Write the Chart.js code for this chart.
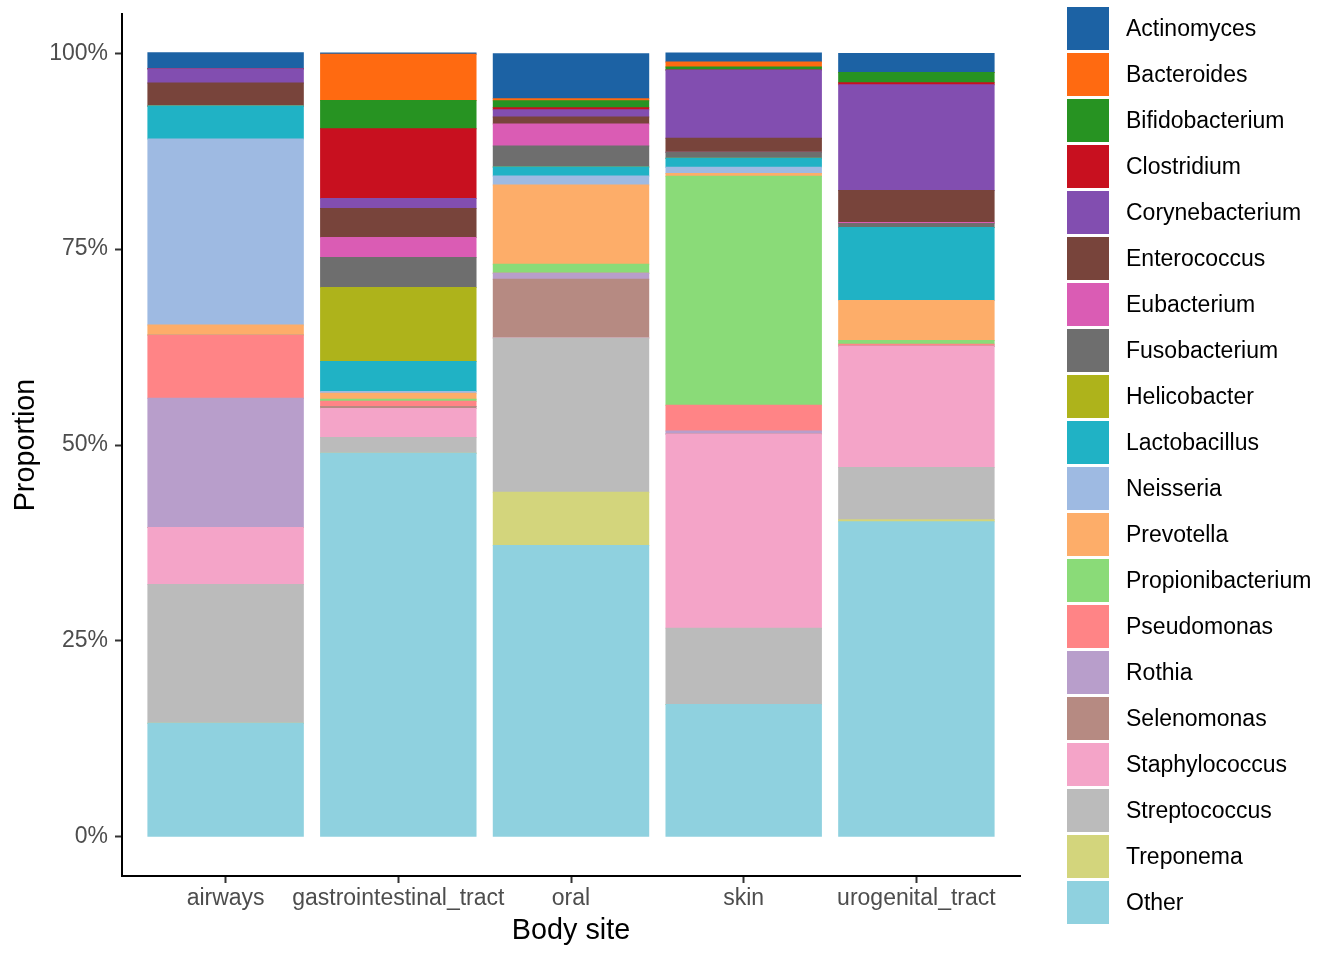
<!DOCTYPE html>
<html>
<head>
<meta charset="utf-8">
<script src="https://cdn.jsdelivr.net/npm/chart.js@4.4.1/dist/chart.umd.min.js"></script>
<style>html,body{margin:0;padding:0;background:#fff;}canvas{display:block;}</style>
</head>
<body>
<canvas id="c" width="1344" height="960"></canvas>
<script>
// ---- data (percent of reads per body site) ----
const sites = ["airways", "gastrointestinal_tract", "oral", "skin", "urogenital_tract"];
const yTicks = [0, 25, 50, 75, 100];

const Actinomyces       = [2.04, 0.15, 5.75, 1.15, 2.43];
const Bacteroides       = [0, 5.9, 0.26, 0.64, 0];
const Bifidobacterium   = [0, 3.6, 0.9, 0.38, 1.28];
const Clostridium       = [0, 8.9, 0.26, 0, 0.26];
const Corynebacterium   = [1.79, 1.28, 0.9, 8.7, 13.5];
const Enterococcus      = [2.94, 3.7, 0.9, 1.8, 4.1];
const Eubacterium       = [0, 2.55, 2.8, 0, 0.13];
const Fusobacterium     = [0, 3.83, 2.7, 0.77, 0.5];
const Helicobacter      = [0, 9.45, 0, 0, 0];
const Lactobacillus     = [4.21, 3.83, 1.15, 1.15, 9.3];
const Neisseria         = [23.75, 0.22, 1.15, 0.77, 0];
const Prevotella        = [1.28, 0.77, 10.09, 0.38, 5.1];
const Propionibacterium = [0, 0.26, 1.15, 29.2, 0.5];
const Pseudomonas       = [8.05, 0.68, 0, 3.3, 0.26];
const Rothia            = [16.5, 0, 0.77, 0.38, 0];
const Selenomonas       = [0, 0.25, 7.5, 0, 0];
const Staphylococcus    = [7.28, 3.7, 0, 24.8, 15.45];
const Streptococcus     = [17.7, 2.0, 19.7, 9.7, 6.68];
const Treponema         = [0, 0, 6.8, 0, 0.26];
const Other             = [14.5, 48.95, 37.16, 16.9, 40.2];

const taxa = ["Actinomyces","Bacteroides","Bifidobacterium","Clostridium","Corynebacterium",
  "Enterococcus","Eubacterium","Fusobacterium","Helicobacter","Lactobacillus","Neisseria",
  "Prevotella","Propionibacterium","Pseudomonas","Rothia","Selenomonas","Staphylococcus",
  "Streptococcus","Treponema","Other"];
const taxaValues = [Actinomyces, Bacteroides, Bifidobacterium, Clostridium, Corynebacterium,
  Enterococcus, Eubacterium, Fusobacterium, Helicobacter, Lactobacillus, Neisseria,
  Prevotella, Propionibacterium, Pseudomonas, Rothia, Selenomonas, Staphylococcus,
  Streptococcus, Treponema, Other];
const colors = ["#1C62A4","#FF6A11","#279322","#C8101F","#824EB0","#78443B","#DA5CB4",
  "#6E6E6E","#AEB31B","#20B2C5","#9EBAE2","#FDAD69","#8ADB78","#FF8486","#B89ECB",
  "#B68A82","#F4A4C8","#BBBBBB","#D3D57C","#8FD1DF"];

// ---- chart ----
const FONT = '"Liberation Sans", Arial, Helvetica, sans-serif';
Chart.defaults.font.family = FONT;

// bottom of the stack is the last taxon ("Other"), so build datasets in reverse
const datasets = taxa.map((name, i) => ({
  label: name,
  data: taxaValues[i].map((v, j) => ({ x: j + 1, y: v })),
  backgroundColor: colors[i],
  borderWidth: 0,
  inflateAmount: 0.5,
  categoryPercentage: 0.9,
  barPercentage: 1.0
})).reverse();

const sideLegend = {
  id: 'sideLegend',
  afterDraw(chart) {
    const ctx = chart.ctx;
    ctx.save();
    ctx.font = '23px ' + FONT;
    ctx.textAlign = 'left';
    ctx.textBaseline = 'middle';
    const x0 = chart.chartArea.right + 47;
    taxa.forEach((name, i) => {
      const y = 7 + i * 46;
      ctx.fillStyle = colors[i];
      ctx.fillRect(x0, y, 42, 43);
      ctx.fillStyle = '#000000';
      ctx.fillText(name, x0 + 59, y + 22.5);
    });
    ctx.restore();
  }
};

const tickFont = { size: 23, family: FONT };
const titleFont = { size: 28.75, family: FONT };
const gridOpts = { drawOnChartArea: false, drawTicks: true, tickLength: 7, tickColor: '#333333', tickWidth: 2, offset: false };
const borderOpts = { display: true, color: '#000000', width: 2 };

new Chart(document.getElementById('c'), {
  type: 'bar',
  data: { datasets },
  plugins: [sideLegend],
  options: {
    responsive: false,
    animation: false,
    layout: { padding: { top: 14, right: 324, bottom: 0, left: 0 } },
    plugins: { legend: { display: false }, tooltip: { enabled: false } },
    scales: {
      x: {
        type: 'linear',
        stacked: true,
        min: 0.4,
        max: 5.6,
        offset: false,
        afterBuildTicks: s => { s.ticks = sites.map((_, i) => ({ value: i + 1 })); },
        afterFit: s => { s.height = 84; s.paddingLeft = 0; s.paddingRight = 0; },
        ticks: {
          callback: v => sites[Math.round(v) - 1] ?? '',
          color: '#4D4D4D', font: tickFont, padding: 2,
          maxRotation: 0, minRotation: 0, autoSkip: false
        },
        grid: gridOpts,
        border: borderOpts,
        title: { display: true, text: 'Body site', color: '#000000', font: titleFont, padding: { top: 0, bottom: 12 } }
      },
      y: {
        type: 'linear',
        stacked: true,
        min: -5,
        max: 105,
        afterBuildTicks: s => { s.ticks = yTicks.map(v => ({ value: v })); },
        afterFit: s => { s.width = 122; s.paddingTop = 0; s.paddingBottom = 0; },
        ticks: { callback: v => v + '%', color: '#4D4D4D', font: tickFont, padding: 7 },
        grid: gridOpts,
        border: borderOpts,
        title: { display: true, text: 'Proportion', color: '#000000', font: titleFont, padding: { top: 9, bottom: 0 } }
      }
    }
  }
});
</script>
</body>
</html>
